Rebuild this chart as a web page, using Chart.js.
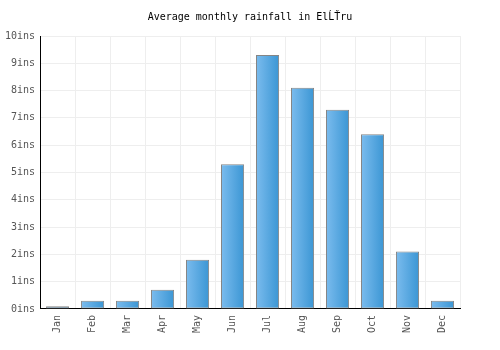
<!DOCTYPE html>
<html>
<head>
<meta charset="utf-8">
<script src="https://cdn.jsdelivr.net/npm/chart.js@4"></script>
<style>
  html, body { margin: 0; padding: 0; background: #fff; }
  #wrap { width: 500px; height: 350px; }
</style>
</head>
<body>
<div id="wrap"><canvas id="rainChart" width="500" height="350"></canvas></div>
<script>
const months = ['Jan', 'Feb', 'Mar', 'Apr', 'May', 'Jun', 'Jul', 'Aug', 'Sep', 'Oct', 'Nov', 'Dec'];
const rainfall = [0.1, 0.3, 0.3, 0.7, 1.8, 5.3, 9.3, 8.1, 7.3, 6.4, 2.1, 0.3];
const yTicks = [0, 1, 2, 3, 4, 5, 6, 7, 8, 9, 10];
const titleText = 'Average monthly rainfall in ElĹŤru';

Chart.defaults.font.family = "'DejaVu Sans Mono', monospace";
Chart.defaults.font.size = 10;

// horizontal gradient per bar, light on the left
function barGradient(ctx) {
  const chart = ctx.chart;
  const xs = chart.scales.x;
  if (!xs || !xs.width || ctx.dataIndex === undefined) return '#5aa8e0';
  const cx = xs.getPixelForValue(ctx.dataIndex);
  const half = xs.width / months.length * 0.66 / 2;
  if (!isFinite(cx) || !isFinite(half)) return '#5aa8e0';
  const g = chart.ctx.createLinearGradient(cx - half, 0, cx + half, 0);
  g.addColorStop(0, '#7bbcee');
  g.addColorStop(1, '#3b96d4');
  return g;
}

// title centred on the whole canvas, not the padded box
const centredTitle = {
  id: 'centredTitle',
  afterDraw(chart) {
    const c = chart.ctx;
    c.save();
    c.font = "10px 'DejaVu Sans Mono', monospace";
    c.fillStyle = '#000';
    c.textAlign = 'center';
    c.textBaseline = 'middle';
    c.fillText(titleText, chart.width / 2, 17);
    c.restore();
  }
};

new Chart(document.getElementById('rainChart'), {
  type: 'bar',
  data: {
    labels: months,
    datasets: [{
      data: rainfall,
      backgroundColor: barGradient,
      borderColor: '#858585',
      borderWidth: 1,
      borderSkipped: false,
      categoryPercentage: 1,
      barPercentage: 0.66
    }]
  },
  options: {
    responsive: false,
    animation: false,
    layout: { padding: { left: 0, right: 40, top: 36, bottom: 11 } },
    plugins: {
      legend: { display: false },
      tooltip: { enabled: false },
      title: { display: false }
    },
    scales: {
      x: {
        grid: { color: '#eeeeee', offset: true, drawTicks: false },
        border: { color: '#000', width: 1 },
        ticks: { color: '#555', maxRotation: 90, minRotation: 90, padding: 6 }
      },
      y: {
        min: 0,
        max: 10,
        afterBuildTicks: axis => { axis.ticks = yTicks.map(v => ({ value: v })); },
        grid: { color: '#eeeeee', drawTicks: false },
        border: { color: '#000', width: 1 },
        ticks: { color: '#555', padding: 5, callback: v => v + 'ins' }
      }
    }
  },
  plugins: [centredTitle]
});
</script>
</body>
</html>
